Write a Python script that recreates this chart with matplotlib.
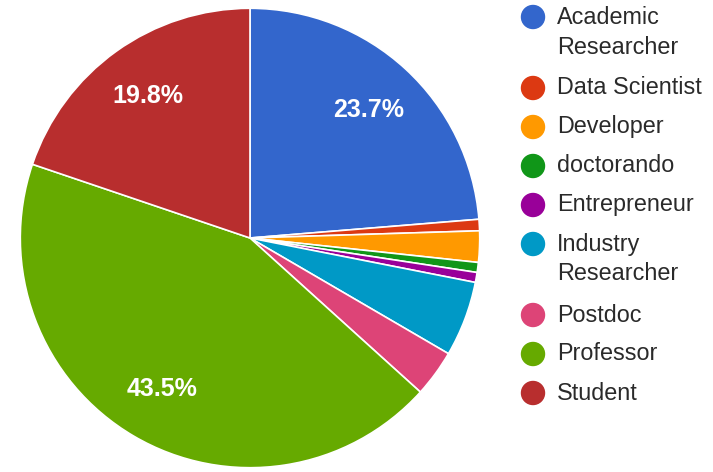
import matplotlib
matplotlib.use("Agg")
import matplotlib.pyplot as plt
from matplotlib.patches import Circle

categories = ["Academic\nResearcher", "Data Scientist", "Developer", "doctorando",
              "Entrepreneur", "Industry\nResearcher", "Postdoc", "Professor", "Student"]
values = [23.7, 0.8, 2.2, 0.7, 0.7, 5.3, 3.3, 43.5, 19.8]
colors = ["#3366CC", "#DC3912", "#FF9900", "#109618", "#990099",
          "#0099C6", "#DD4477", "#66AA00", "#B82E2E"]

plt.rcParams['font.family'] = ['Liberation Sans', 'DejaVu Sans']

W, H = 713, 472
fig = plt.figure(figsize=(W / 100, H / 100), dpi=100)
cx, cy, r = 250, 238, 232
ax = fig.add_axes([(cx - r) / W, (H - cy - r) / H, 2 * r / W, 2 * r / H])

def fmt(p):
    return f"{p:.1f}%" if p >= 10 else ""

wedges, texts, autotexts = ax.pie(
    values, colors=colors, startangle=90, counterclock=False,
    autopct=fmt, pctdistance=0.76,
    wedgeprops=dict(edgecolor="white", linewidth=1.2),
    textprops=dict(color="white", fontsize=18, fontweight="bold"))
ax.set_xlim(-1.01, 1.01)
ax.set_ylim(-1.01, 1.01)
ax.axis("off")

# legend drawn manually
lax = fig.add_axes([0, 0, 1, 1])
lax.set_xlim(0, W)
lax.set_ylim(H, 0)
lax.axis("off")
y = 17
for lab, col in zip(categories, colors):
    lax.add_patch(Circle((533, y), 11.5, color=col))
    lines = lab.split("\n")
    for k, line in enumerate(lines):
        lax.text(557, y + 30 * k, line, fontsize=16.8, color="#2a2a2a",
                 va="center", ha="left")
    y += 39 + 32 * (len(lines) - 1)

fig.savefig("out.png", dpi=100)
